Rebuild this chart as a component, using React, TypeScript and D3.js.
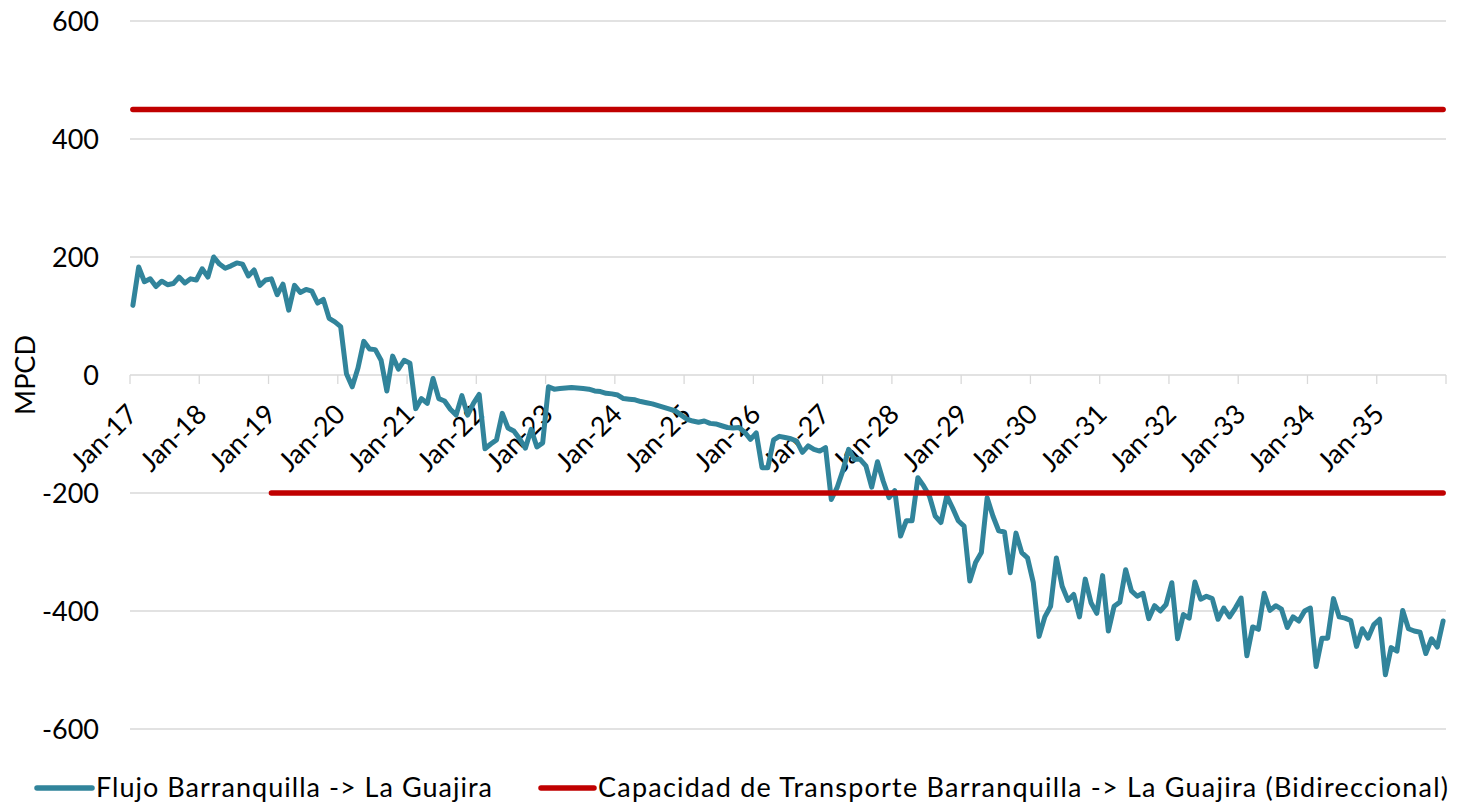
import React, { useEffect, useRef } from "react";
import * as d3 from "d3";

const monthNames = ["Jan", "Feb", "Mar", "Apr", "May", "Jun", "Jul", "Aug", "Sep", "Oct", "Nov", "Dec"];
const years = [17, 18, 19, 20, 21, 22, 23, 24, 25, 26, 27, 28, 29, 30, 31, 32, 33, 34, 35];
const categories = years.flatMap((yr) => monthNames.map((m) => `${m}-${yr}`));
const tickLabels = years.map((yr) => `Jan-${yr}`);
const yTicks = [-600, -400, -200, 0, 200, 400, 600];

// Flujo Barranquilla -> La Guajira (MPCD), one row per year Jan..Dec
const flow = [
  118, 183, 158, 163, 150, 159, 153, 155, 166, 156, 163, 161, // 2017
  180, 166, 200, 188, 181, 185, 190, 188, 168, 178, 152, 161, // 2018
  163, 136, 154, 110, 152, 140, 145, 142, 122, 128, 96, 90, // 2019
  82, 2, -20, 12, 57, 44, 43, 25, -27, 32, 10, 25, // 2020
  20, -57, -40, -48, -6, -40, -44, -58, -68, -35, -68, -48, // 2021
  -33, -125, -117, -110, -65, -90, -95, -108, -124, -92, -122, -115, // 2022
  -20, -24, -23, -22, -21, -22, -23, -24, -27, -28, -31, -32, // 2023
  -34, -40, -41, -42, -45, -47, -49, -52, -55, -58, -61, -68, // 2024
  -75, -78, -80, -78, -82, -83, -86, -89, -90, -89, -97, -109, // 2025
  -98, -157, -157, -110, -104, -106, -108, -112, -131, -120, -126, -129, // 2026
  -123, -211, -191, -162, -126, -143, -143, -154, -190, -147, -180, -208, // 2027
  -196, -273, -247, -247, -174, -188, -205, -239, -250, -205, -225, -247, // 2028
  -256, -349, -318, -301, -208, -239, -264, -266, -335, -268, -301, -310, // 2029
  -352, -443, -410, -392, -310, -358, -382, -372, -410, -346, -386, -404, // 2030
  -340, -434, -392, -385, -330, -366, -375, -370, -413, -391, -400, -389, // 2031
  -352, -447, -406, -412, -351, -380, -375, -379, -414, -395, -410, -395, // 2032
  -378, -476, -427, -431, -370, -399, -391, -397, -428, -410, -417, -400, // 2033
  -395, -494, -446, -446, -379, -410, -412, -416, -460, -430, -446, -423, // 2034
  -414, -508, -462, -468, -399, -430, -434, -436, -472, -447, -461, -417, // 2035
];

// Capacidad de transporte (bidireccional): constant levels over a month span
const capacityUpper = { from: "Jan-17", to: "Dec-35", value: 450 };
const capacityLower = { from: "Jan-19", to: "Dec-35", value: -200 };

const legendLabels = [
  "Flujo Barranquilla -> La Guajira",
  "Capacidad de Transporte Barranquilla -> La Guajira (Bidireccional)",
];

const FLOW_COLOR = "#31849B";
const CAP_COLOR = "#C00000";
const GRID_COLOR = "#D9D9D9";
const FONT = "Lato, 'Open Sans', sans-serif";

export default function App() {
  const ref = useRef<SVGSVGElement>(null);

  useEffect(() => {
    const svg = d3.select(ref.current);
    svg.selectAll("*").remove();

    const left = 130;
    const right = 1446;

    const x = d3.scaleBand<string>().domain(categories).range([left, right]);
    const y = d3.scaleLinear().domain([-600, 600]).range([729, 21]);
    const cx = (c: string) => (x(c) as number) + x.bandwidth() / 2;
    const y0 = y(0);

    // horizontal gridlines
    svg.append("g")
      .selectAll("line")
      .data(yTicks.filter((t) => t !== 0))
      .join("line")
      .attr("x1", left)
      .attr("x2", right)
      .attr("y1", (d) => y(d))
      .attr("y2", (d) => y(d))
      .attr("stroke", GRID_COLOR)
      .attr("stroke-width", 1.3);

    // y tick labels
    svg.append("g")
      .selectAll("text")
      .data(yTicks)
      .join("text")
      .attr("x", 99)
      .attr("y", (d) => y(d))
      .attr("dy", "0.36em")
      .attr("text-anchor", "end")
      .attr("font-family", FONT)
      .attr("font-size", 27)
      .attr("fill", "#000")
      .text((d) => d);

    // y title
    svg.append("text")
      .attr("transform", `translate(25, ${y0}) rotate(-90)`)
      .attr("text-anchor", "middle")
      .attr("dy", "0.36em")
      .attr("font-family", FONT)
      .attr("font-size", 27)
      .text("MPCD");

    // category axis crossing at zero
    const axis = svg.append("g");
    axis.append("line")
      .attr("x1", left)
      .attr("x2", right)
      .attr("y1", y0)
      .attr("y2", y0)
      .attr("stroke", GRID_COLOR)
      .attr("stroke-width", 1.3);

    const tickXs = tickLabels.map((t) => x(t) as number).concat([right]);
    axis.selectAll("line.tick")
      .data(tickXs)
      .join("line")
      .attr("class", "tick")
      .attr("x1", (d) => d)
      .attr("x2", (d) => d)
      .attr("y1", y0)
      .attr("y2", y0 + 9)
      .attr("stroke", GRID_COLOR)
      .attr("stroke-width", 1.3);

    axis.selectAll("text")
      .data(tickLabels)
      .join("text")
      .attr("transform", (d) => `translate(${(x(d) as number) + 9}, ${y0 + 41}) rotate(-45)`)
      .attr("text-anchor", "end")
      .attr("font-family", FONT)
      .attr("font-size", 27)
      .attr("fill", "#000")
      .text((d) => d);

    // flow series
    const line = d3.line<number>()
      .x((_, i) => cx(categories[i]))
      .y((d) => y(d));

    svg.append("path")
      .datum(flow)
      .attr("d", line)
      .attr("fill", "none")
      .attr("stroke", FLOW_COLOR)
      .attr("stroke-width", 5)
      .attr("stroke-linejoin", "round")
      .attr("stroke-linecap", "round");

    // capacity series
    [capacityUpper, capacityLower].forEach((c) => {
      svg.append("line")
        .attr("x1", cx(c.from))
        .attr("x2", cx(c.to))
        .attr("y1", y(c.value))
        .attr("y2", y(c.value))
        .attr("stroke", CAP_COLOR)
        .attr("stroke-width", 5.5)
        .attr("stroke-linecap", "round");
    });

    // legend
    const legend = svg.append("g");
    const items = [
      { label: legendLabels[0], color: FLOW_COLOR, x0: 37, x1: 92, tx: 96, tw: 396 },
      { label: legendLabels[1], color: CAP_COLOR, x0: 541, x1: 594, tx: 598, tw: 850 },
    ];
    items.forEach((it) => {
      legend.append("line")
        .attr("x1", it.x0)
        .attr("x2", it.x1)
        .attr("y1", 788)
        .attr("y2", 788)
        .attr("stroke", it.color)
        .attr("stroke-width", 5.5)
        .attr("stroke-linecap", "round");
      legend.append("text")
        .attr("x", it.tx)
        .attr("y", 797)
        .attr("font-family", FONT)
        .attr("font-size", 27)
        .attr("textLength", it.tw)
        .attr("lengthAdjust", "spacing")
        .text(it.label);
    });
  }, []);

  return (
    <svg
      ref={ref}
      width={1457}
      height={805}
      style={{ position: "absolute", left: 0, top: 0, background: "#fff" }}
    />
  );
}
